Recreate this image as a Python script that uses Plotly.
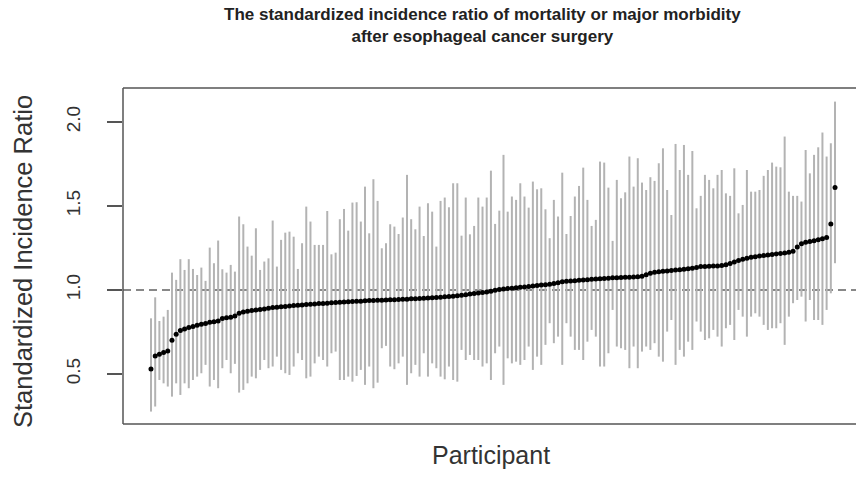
import plotly.graph_objects as go

# Standardized incidence ratio per participant (sorted by estimate)
sir = [
    0.53, 0.607, 0.617, 0.627, 0.637, 0.70, 0.736, 0.758, 0.768, 0.776,
    0.782, 0.79, 0.796, 0.80, 0.807, 0.81, 0.815, 0.83, 0.835, 0.837,
    0.845, 0.861, 0.869, 0.873, 0.877, 0.88, 0.883, 0.887, 0.891, 0.895,
    0.897, 0.90, 0.902, 0.905, 0.907, 0.909, 0.911, 0.913, 0.915, 0.917,
    0.919, 0.92, 0.921, 0.923, 0.925, 0.926, 0.928, 0.929, 0.931, 0.932,
    0.933, 0.935, 0.937, 0.937, 0.938, 0.939, 0.94, 0.941, 0.942, 0.943,
    0.944, 0.945, 0.947, 0.948, 0.949, 0.95, 0.952, 0.953, 0.955, 0.957,
    0.959, 0.961, 0.963, 0.966, 0.968, 0.972, 0.976, 0.979, 0.982, 0.985,
    0.988, 0.992, 0.998, 1.002, 1.005, 1.008, 1.01, 1.013, 1.016, 1.018,
    1.021, 1.023, 1.026, 1.029, 1.031, 1.034, 1.038, 1.043, 1.048, 1.051,
    1.053, 1.055, 1.057, 1.059, 1.061, 1.063, 1.065, 1.066, 1.068, 1.07,
    1.072, 1.073, 1.074, 1.075, 1.076, 1.077, 1.078, 1.082, 1.09, 1.10,
    1.106, 1.108, 1.111, 1.113, 1.115, 1.118, 1.12, 1.123, 1.126, 1.129,
    1.134, 1.139, 1.14, 1.141, 1.142, 1.143, 1.145, 1.15, 1.158, 1.167,
    1.175, 1.182, 1.189, 1.195, 1.198, 1.202, 1.205, 1.208, 1.211, 1.214,
    1.217, 1.22, 1.224, 1.23, 1.255, 1.275, 1.284, 1.288, 1.293, 1.298,
    1.304, 1.312, 1.392, 1.61,
]

upper = [
    0.831, 0.956, 0.815, 0.841, 0.881, 1.103, 1.06, 1.183, 1.119, 1.183,
    1.125, 1.089, 1.133, 1.054, 1.252, 1.159, 1.294, 1.123, 1.103, 1.149,
    1.109, 1.437, 1.391, 1.258, 1.204, 1.367, 1.119, 1.169, 1.188, 1.413,
    1.139, 1.298, 1.341, 1.347, 1.317, 1.125, 1.278, 1.496, 1.407, 1.268,
    1.268, 1.268, 1.47, 1.212, 1.222, 1.421, 1.482, 1.353, 1.52, 1.522,
    1.407, 1.615, 1.337, 1.659, 1.53, 1.248, 1.278, 1.391, 1.377, 1.333,
    1.431, 1.685, 1.421, 1.361, 1.496, 1.321, 1.516, 1.466, 1.258, 1.53,
    1.55, 1.492, 1.635, 1.635, 1.323, 1.55, 1.331, 1.381, 1.55, 1.496,
    1.55, 1.71, 1.393, 1.472, 1.804, 1.466, 1.556, 1.536, 1.635, 1.556,
    1.49, 1.645, 1.599, 1.605, 1.48, 1.308, 1.536, 1.437, 1.698, 1.333,
    1.44, 1.556, 1.619, 1.728, 1.536, 1.381, 1.417, 1.764, 1.758, 1.609,
    1.292, 1.655, 1.546, 1.581, 1.794, 1.615, 1.784, 1.639, 1.595, 1.671,
    1.649, 1.754, 1.843, 1.595, 1.446, 1.869, 1.714, 1.863, 1.685, 1.827,
    1.486, 1.56, 1.685, 1.655, 1.605, 1.685, 1.714, 1.575, 1.56, 1.724,
    1.456, 1.506, 1.714, 1.585, 1.585, 1.595, 1.679, 1.714, 1.758, 1.734,
    1.73, 1.913, 1.585, 1.56, 1.56, 1.526, 1.833, 1.694, 1.804, 1.849,
    1.937, 1.794, 1.873, 2.121,
]

lower = [
    0.276, 0.306, 0.464, 0.444, 0.425, 0.365, 0.444, 0.375, 0.444, 0.415,
    0.464, 0.484, 0.504, 0.554, 0.425, 0.464, 0.415, 0.534, 0.583, 0.504,
    0.56, 0.389, 0.405, 0.444, 0.484, 0.474, 0.524, 0.583, 0.534, 0.544,
    0.603, 0.524, 0.504, 0.494, 0.544, 0.623, 0.583, 0.474, 0.484, 0.563,
    0.603, 0.583, 0.544, 0.623, 0.633, 0.464, 0.464, 0.484, 0.454, 0.488,
    0.524, 0.435, 0.544, 0.415, 0.448, 0.653, 0.667, 0.544, 0.528, 0.563,
    0.603, 0.435, 0.504, 0.554, 0.484, 0.623, 0.484, 0.563, 0.534, 0.484,
    0.468, 0.544, 0.464, 0.454, 0.643, 0.583, 0.613, 0.583, 0.583, 0.544,
    0.563, 0.464, 0.623, 0.663, 0.435, 0.593, 0.563, 0.573, 0.554, 0.583,
    0.663, 0.524, 0.603, 0.554, 0.673, 0.802, 0.683, 0.722, 0.554, 0.802,
    0.722, 0.643, 0.643, 0.583, 0.692, 0.762, 0.722, 0.544, 0.544, 0.623,
    0.881, 0.663, 0.653, 0.643, 0.534, 0.663, 0.534, 0.633, 0.663, 0.643,
    0.683, 0.603, 0.573, 0.752, 0.821, 0.554, 0.643, 0.603, 0.692, 0.643,
    0.812, 0.752, 0.702, 0.712, 0.762, 0.722, 0.663, 0.772, 0.792, 0.702,
    0.881, 0.841, 0.722, 0.841, 0.861, 0.841, 0.792, 0.762, 0.772, 0.772,
    0.802, 0.673, 0.841, 0.921, 0.94, 0.96, 0.812, 0.94, 0.821, 0.821,
    0.792, 0.881, 0.98, 1.159,
]

y_ticks = [0.5, 1.0, 1.5, 2.0]
y_tick_labels = ["0.5", "1.0", "1.5", "2.0"]
reference_line = 1.0

participants = list(range(1, len(sir) + 1))
err_plus = [u - s for u, s in zip(upper, sir)]
err_minus = [s - l for s, l in zip(sir, lower)]

W, H = 856, 478
L, R, T, B = 123, 0, 88, 54

fig = go.Figure()
fig.add_trace(go.Scatter(
    x=participants, y=sir, mode="markers",
    marker=dict(color="black", size=5, line=dict(width=0)),
    error_y=dict(type="data", symmetric=False, array=err_plus,
                 arrayminus=err_minus, width=0, thickness=2,
                 color="#b3b3b3"),
    showlegend=False, hoverinfo="skip",
))

fig.add_shape(type="line", xref="paper", yref="y", x0=0, x1=1,
              y0=reference_line, y1=reference_line,
              line=dict(color="#888888", width=2, dash="8px,5px"),
              layer="below")

# plot box (top, bottom, left)
for (x0, y0, x1, y1) in [(0, 1, 1, 1), (0, 0, 1, 0), (0, 0, 0, 1)]:
    fig.add_shape(type="line", xref="paper", yref="paper",
                  x0=x0, y0=y0, x1=x1, y1=y1,
                  line=dict(color="#555555", width=1.5))

fig.update_xaxes(range=[-5.67, 169.0], showgrid=False, zeroline=False,
                 showticklabels=False, ticks="", showline=False)
fig.update_yaxes(range=[0.202, 2.202], showgrid=False, zeroline=False,
                 tickvals=y_ticks, ticktext=y_tick_labels, ticks="outside",
                 ticklen=15, tickwidth=1.5, tickcolor="#555555",
                 tickangle=-90, showline=False, ticklabelstandoff=19,
                 tickfont=dict(family="Liberation Sans", size=19, color="#333333"))

pw = W - L - R
title_x = (482 - L) / pw
fig.add_annotation(
    text="<b>The standardized incidence ratio of mortality or major morbidity</b><br><b>after esophageal cancer surgery</b>",
    xref="paper", yref="paper", x=title_x, y=1, yshift=85,
    showarrow=False, align="center",
    font=dict(family="Liberation Sans", size=17, color="#222222"),
)
fig.add_annotation(
    text="Participant", xref="paper", yref="paper",
    x=(491 - L) / pw, y=0, yshift=-47, showarrow=False,
    font=dict(family="Liberation Sans", size=25, color="#333333"),
)
fig.add_annotation(
    text="Standardized Incidence Ratio", xref="paper", yref="paper",
    x=0, xshift=-(L - 7), y=(424 - 260) / (424 - 88), yshift=-2,
    textangle=-90, showarrow=False,
    font=dict(family="Liberation Sans", size=25.5, color="#333333"),
)

fig.update_layout(
    width=W, height=H, margin=dict(l=L, r=R, t=T, b=B),
    paper_bgcolor="white", plot_bgcolor="white",
)

fig.write_html("out.html")
